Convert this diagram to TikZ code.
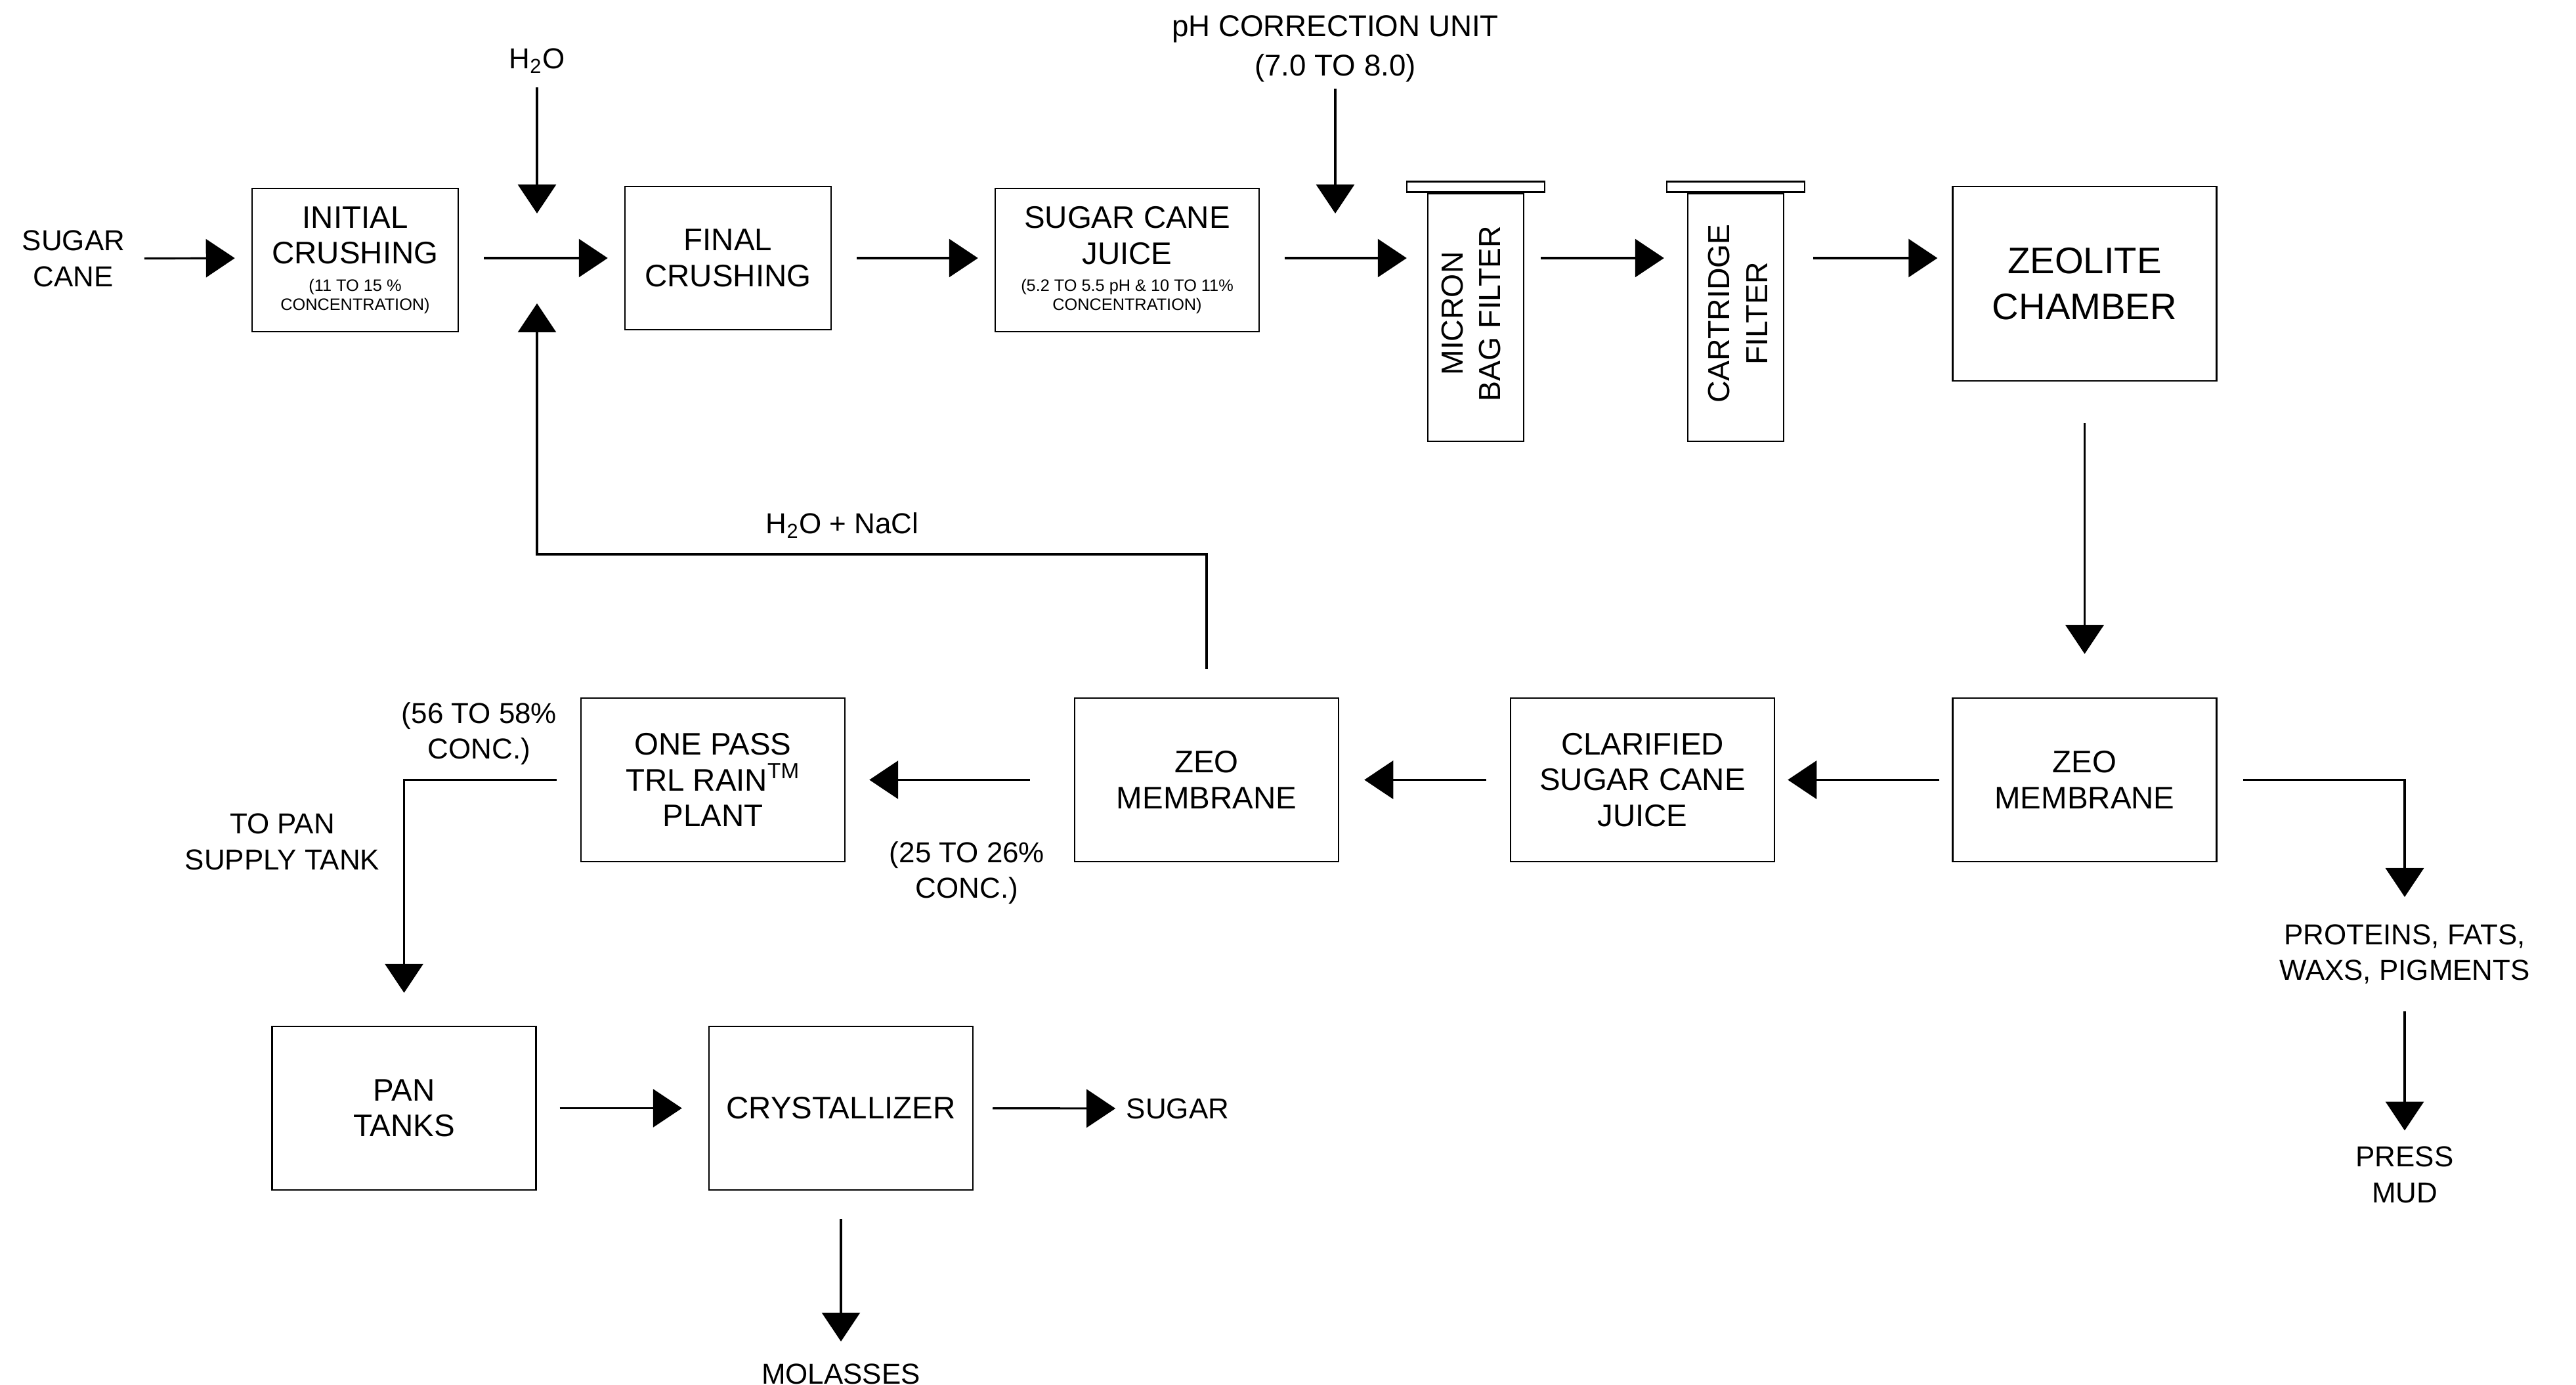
\documentclass[tikz,border=0pt]{standalone}
\usepackage{fontspec}
\setmainfont{Liberation Sans}
\usetikzlibrary{arrows.meta}
\newcommand{\notefont}{\fontsize{7.2}{8.2}\selectfont}

\begin{document}
\begin{tikzpicture}[x=1mm,y=-1mm,
    unit/.style={draw,line width=0.7pt,align=center,inner sep=0pt,minimum width=40.2mm,minimum height=24.9mm,font=\fontsize{13.5}{15.5}\selectfont},
    crusher/.style={unit,minimum width=31.4mm,minimum height=21.8mm},
    filterbody/.style={unit,minimum width=14.6mm,minimum height=37.7mm},
    filtercap/.style={draw,line width=0.7pt,fill=white,minimum width=21mm,minimum height=1.6mm,inner sep=0pt},
    lbl/.style={align=center,inner sep=0pt,font=\fontsize{12.5}{15.5}\selectfont},
    flow/.style={-{Triangle[length=4.4mm,width=5.8mm]},line width=0.9pt,shorten <=3.8mm,shorten >=2.5mm}]

    \useasboundingbox (0,0) rectangle (392.4,210.9);

    % top row: crushing and filtering
    \node[lbl] (cane) at (11.2,39.4) {SUGAR\\CANE};
    \node[crusher] (initial) at (54.1,39.6) {INITIAL\\CRUSHING\\[-3.7pt]\notefont (11 TO 15 \%\\[-7.3pt]\notefont CONCENTRATION)};
    \node[crusher] (final) at (110.9,39.3) {FINAL\\CRUSHING};
    \node[unit,minimum height=21.8mm] (juice) at (171.7,39.6) {SUGAR CANE\\JUICE\\[-3.7pt]\notefont (5.2 TO 5.5 pH \& 10 TO 11\%\\[-7.3pt]\notefont CONCENTRATION)};
    \node[filterbody] (micron) at (224.8,48.35) {};
    \node[filtercap,anchor=south] (microncap) at (micron.north) {};
    \node[lbl,rotate=90,font=\fontsize{13.2}{16.4}\selectfont] (microntext) at ([xshift=-0.7mm,yshift=0.6mm]micron.center) {MICRON\\BAG FILTER};
    \node[filterbody] (cartridge) at (264.4,48.35) {};
    \node[filtercap,anchor=south] (cartridgecap) at (cartridge.north) {};
    \node[lbl,rotate=90,font=\fontsize{13.2}{16.4}\selectfont] (cartridgetext) at ([xshift=0.3mm,yshift=0.6mm]cartridge.center) {CARTRIDGE\\FILTER};
    \node[unit,minimum height=29.6mm,font=\fontsize{16}{20}\selectfont] (zeolite) at (317.55,43.2) {ZEOLITE\\CHAMBER};

    \node[lbl] (water) at (81.8,9.3) {H\textsubscript{2}O};
    \node[lbl,font=\fontsize{13}{17}\selectfont] (ph) at (203.4,7.4) {pH CORRECTION UNIT\\(7.0 TO 8.0)};
    \coordinate (mix) at (81.8,39.3);
    \coordinate (dose) at (203.4,39.3);

    \draw[flow,shorten <=2.9mm] (cane) -- (initial.west |- mix);
    \draw[flow] (initial.east |- mix) -- (final);
    \draw[flow] (final) -- (juice.west |- mix);
    \draw[flow,shorten >=3.1mm] (juice.east |- mix) -- (micron.west |- mix);
    \draw[flow,shorten <=2.5mm,shorten >=3.5mm] (micron.east |- mix) -- (cartridge.west |- mix);
    \draw[flow,shorten <=4.4mm,shorten >=2.2mm] (cartridge.east |- mix) -- (zeolite.west |- mix);
    \draw[flow,shorten <=2mm,shorten >=6.8mm] (water) -- (mix);
    \draw[flow,shorten <=1mm,shorten >=6.8mm] (ph) -- (dose);

    % lower row: membranes and concentration
    \node[unit] (zeoR) at (317.55,118.75) {ZEO\\MEMBRANE};
    \node[unit] (clarified) at (250.2,118.75) {CLARIFIED\\SUGAR CANE\\JUICE};
    \node[unit] (zeomid) at (183.8,118.75) {ZEO\\MEMBRANE};
    \node[unit] (onepass) at (108.6,118.75) {ONE PASS\\TRL RAIN\textsuperscript{TM}\\PLANT};
    \node[unit] (pantanks) at (61.55,168.75) {PAN\\TANKS};
    \node[unit] (cryst) at (128.1,168.75) {CRYSTALLIZER};

    \node[lbl] (salt) at (128.3,80.0) {H\textsubscript{2}O + NaCl};
    \node[lbl] (highconc) at (73.0,111.7) {(56 TO 58\%\\CONC.)};
    \node[lbl] (topan) at (43.0,128.2) {TO PAN\\SUPPLY TANK};
    \node[lbl] (lowconc) at (147.3,132.9) {(25 TO 26\%\\CONC.)};
    \node[lbl] (proteins) at (366.3,145.3) {PROTEINS, FATS,\\WAXS, PIGMENTS};
    \node[lbl] (press) at (366.3,178.9) {PRESS\\MUD};
    \node[lbl] (sugar) at (179.4,168.8) {SUGAR};
    \node[lbl] (molasses) at (128.1,209.2) {MOLASSES};
    \coordinate (bend) at (183.8,84.4);

    \draw[flow,shorten <=6.3mm,shorten >=6.6mm] (zeolite) -- (zeoR);
    \draw[flow,shorten <=1.9mm,shorten >=1.9mm] (zeoR) -- (clarified);
    \draw[flow,shorten <=3.6mm,shorten >=3.8mm] (clarified) -- (zeomid);
    \draw[flow,shorten <=6.7mm,shorten >=3.6mm] (zeomid) -- (onepass);
    \draw[flow,shorten <=4.3mm,shorten >=6.9mm] (zeomid.north) -- (bend) -| (mix); % salt water back to crushing
    \draw[flow,shorten <=3.6mm,shorten >=5mm] (onepass.west) -| (pantanks.north);
    \draw[flow,shorten <=3.5mm,shorten >=4mm] (pantanks) -- (cryst);
    \draw[flow,shorten <=2.9mm,shorten >=1.6mm] (cryst) -- (sugar);
    \draw[flow,shorten <=4.3mm,shorten >=3.3mm] (cryst) -- (molasses);
    \draw[flow,shorten <=3.9mm,shorten >=4.1mm] (zeoR.east) -| (proteins.north);
    \draw[flow,shorten <=4.1mm,shorten >=2.4mm] (proteins) -- (press);
\end{tikzpicture}
\end{document}
